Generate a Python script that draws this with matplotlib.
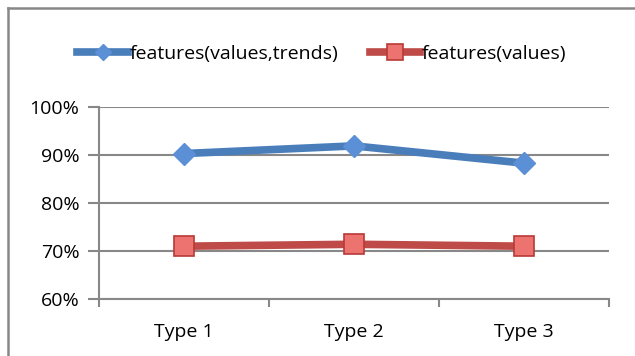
import numpy as np
import matplotlib.pyplot as plt
from matplotlib.lines import Line2D
from matplotlib.ticker import FuncFormatter

categories = ['Type 1', 'Type 2', 'Type 3']
values_trends = [90.3, 91.9, 88.3]
values_only = [71.0, 71.4, 71.0]

plt.rcParams['font.family'] = ['Open Sans', 'DejaVu Sans']

W, H = 635, 356
fig = plt.figure(figsize=(W / 100, H / 100), dpi=100)
ax = fig.add_axes([99 / W, 1 - 299 / H, 510 / W, 192 / H])

x = np.arange(len(categories))
ax.plot(x, values_trends, color='#4a7ebb', lw=5.5, marker='D', ms=11,
        mfc='#5b8fd6', mec='#5b8fd6', label='features(values,trends)', zorder=3)
ax.plot(x, values_only, color='#be4b48', lw=5.5, marker='s', ms=15,
        mfc='#ec7370', mec='#b83a37', mew=1.2, label='features(values)', zorder=3)

ax.set_xlim(-0.5, 2.5)
ax.set_ylim(60, 100)
ax.set_yticks([60, 70, 80, 90, 100])
ax.yaxis.set_major_formatter(FuncFormatter(lambda v, p: '{:.0f}%'.format(v)))
ax.set_xticks(x)
ax.set_xticklabels(categories)
ax.set_xticks([-0.5, 0.5, 1.5, 2.5], minor=True)
ax.tick_params(axis='x', which='major', length=0, pad=17, labelsize=14)
ax.tick_params(axis='x', which='minor', length=6, width=1.5, color='#888888')
ax.tick_params(axis='y', length=8, width=1.5, color='#888888', labelsize=14, pad=6)
ax.grid(axis='y', color='#888888', lw=1.5)
ax.set_axisbelow(True)
for s in ['top', 'right']:
    ax.spines[s].set_visible(False)
for s in ['left', 'bottom']:
    ax.spines[s].set_color('#888888')
    ax.spines[s].set_linewidth(1.5)

leg = fig.legend(loc='center', ncol=2, frameon=False,
                 fontsize=14, handlelength=2.6, handletextpad=0.1, columnspacing=1.6,
                 markerscale=0.75)
leg.set_bbox_to_anchor((322 / W, 1 - 54 / H), transform=fig.transFigure)

# frame edge of the cropped chart (top and left only)
fig.add_artist(Line2D([8 / W, 1], [1 - 7.5 / H] * 2, transform=fig.transFigure,
                      color='#888888', lw=1.8))
fig.add_artist(Line2D([8 / W] * 2, [0, 1 - 7.5 / H], transform=fig.transFigure,
                      color='#888888', lw=1.8))

fig.savefig('out.png', dpi=100)
